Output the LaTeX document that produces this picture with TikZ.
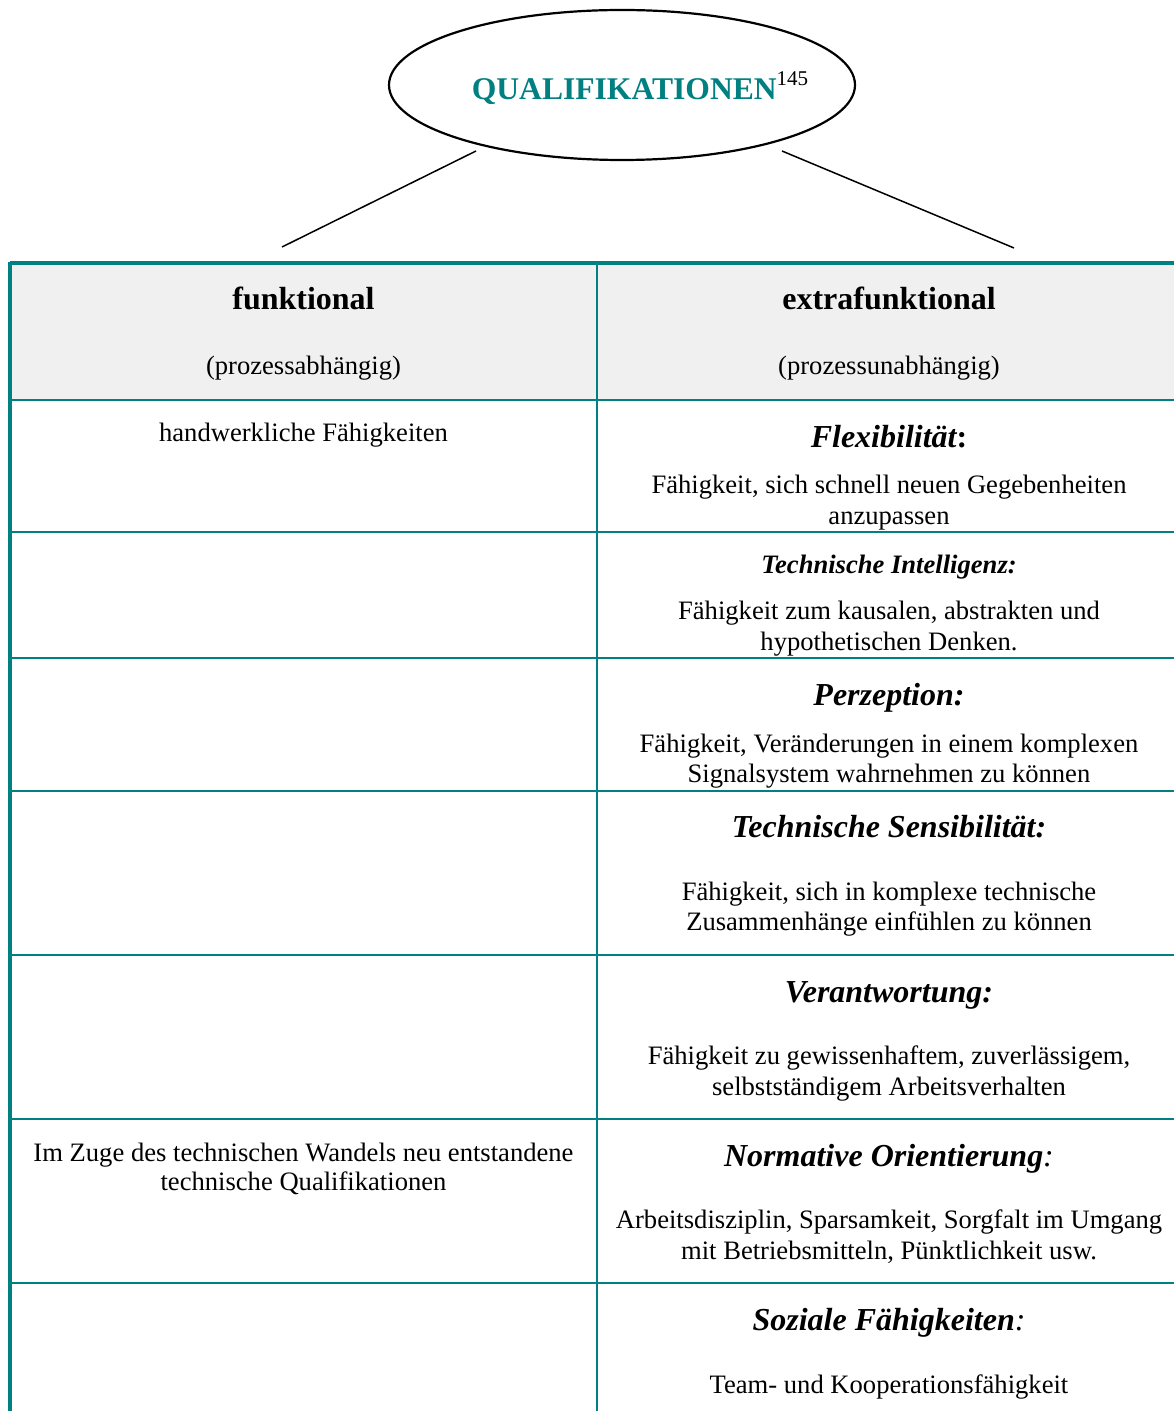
\documentclass[tikz,border=0pt]{standalone}
\usepackage{fontspec}
\setmainfont{Liberation Serif}
\usetikzlibrary{shapes.geometric}
\definecolor{tealc}{HTML}{008080}
\definecolor{hdrfill}{HTML}{F0F0F0}
\begin{document}
\begin{tikzpicture}[x=0.5pt,y=-0.5pt,
  body/.style={font=\fontsize{13.3}{15.5}\selectfont, anchor=base, inner sep=0pt},
  ttl/.style={font=\fontsize{16}{19}\selectfont\bfseries\itshape, anchor=base, inner sep=0pt},
  ttlsmall/.style={font=\fontsize{13.3}{15.5}\selectfont\bfseries\itshape, anchor=base, inner sep=0pt},
  hdr/.style={font=\fontsize{16}{19}\selectfont\bfseries, anchor=base, inner sep=0pt},
  gridline/.style={draw=tealc, line width=1pt},
  conn/.style={draw=black, line width=0.75pt}]
\useasboundingbox (0,0) rectangle (1174,1411);
% header fill
\fill[hdrfill] (10,263) rectangle (1174,400);
% ellipse
\node[ellipse, draw, line width=1.1pt, minimum width=233pt, minimum height=75pt, inner sep=0pt] (qual) at (622,85) {};
\node[anchor=base, inner sep=0pt, font=\fontsize{15.8}{18}\selectfont\bfseries, text=tealc] (qualtext) at (640,100)
  {QUALIFIKATIONEN\raisebox{0.45em}{\fontsize{10.5}{12}\selectfont\mdseries\color{black}145}};
% connectors
\coordinate (l1) at (476,151);
\coordinate (l2) at (282,247);
\coordinate (r1) at (782,151);
\coordinate (r2) at (1014,248);
\draw[conn] (l1) -- (l2);
\draw[conn] (r1) -- (r2);
% grid lines
\draw[gridline] (10,400) -- (1174,400);
\foreach \yy in {532,658,791,955,1119,1283} {\draw[gridline] (10,\yy) -- (1174,\yy);}
\draw[draw=tealc, line width=0.8pt] (597,263) -- (597,1411);
\draw[draw=tealc, line width=1.6pt] (10,263) -- (1174,263);
\draw[draw=tealc, line width=1.6pt] (10,262) -- (10,1411);
% header texts
\node[hdr] (h1) at (303.5,310) {funktional};
\node[body] (h1b) at (303.5,375) {(prozessabhängig)};
\node[hdr] (h2) at (889,310) {extrafunktional};
\node[body] (h2b) at (889,375) {(prozessunabhängig)};
% left column
\node[body] (lc1) at (303.5,441) {handwerkliche Fähigkeiten};
\node[body] (lc6a) at (303.5,1161) {Im Zuge des technischen Wandels neu entstandene};
\node[body] (lc6b) at (303.5,1190) {technische Qualifikationen};
% right column
\node[ttl] (t1) at (889,447) {Flexibilität\upshape:};
\node[body] (t1a) at (889,493) {Fähigkeit, sich schnell neuen Gegebenheiten};
\node[body] (t1b) at (889,524) {anzupassen};
\node[ttlsmall] (t2) at (889,573) {Technische Intelligenz:};
\node[body] (t2a) at (889,619) {Fähigkeit zum kausalen, abstrakten und};
\node[body] (t2b) at (889,650) {hypothetischen Denken.};
\node[ttl] (t3) at (889,705) {Perzeption:};
\node[body] (t3a) at (889,752) {Fähigkeit, Veränderungen in einem komplexen};
\node[body] (t3b) at (889,782) {Signalsystem wahrnehmen zu können};
\node[ttl] (t4) at (889,837) {Technische Sensibilität:};
\node[body] (t4a) at (889,900) {Fähigkeit, sich in komplexe technische};
\node[body] (t4b) at (889,930) {Zusammenhänge einfühlen zu können};
\node[ttl] (t5) at (889,1002) {Verantwortung:};
\node[body] (t5a) at (889,1064) {Fähigkeit zu gewissenhaftem, zuverlässigem,};
\node[body] (t5b) at (889,1095) {selbstständigem Arbeitsverhalten};
\node[ttl] (t6) at (889,1166) {Normative Orientierung\mdseries:};
\node[body] (t6a) at (889,1228) {Arbeitsdisziplin, Sparsamkeit, Sorgfalt im Umgang};
\node[body] (t6b) at (889,1259) {mit Betriebsmitteln, Pünktlichkeit usw.};
\node[ttl] (t7) at (889,1330) {Soziale Fähigkeiten\mdseries:};
\node[body] (t7a) at (889,1393) {Team- und Kooperationsfähigkeit};
\end{tikzpicture}
\end{document}
